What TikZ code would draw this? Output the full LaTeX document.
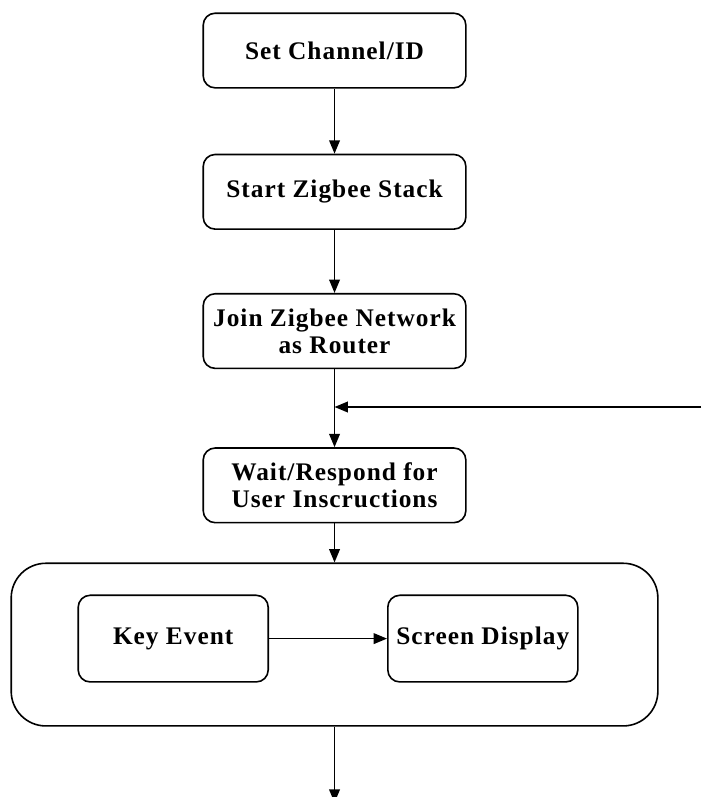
\documentclass[tikz,border=0pt]{standalone}
\usepackage{fontspec}
\setmainfont{Liberation Serif}[LetterSpace=4]
\usepackage{tikz}
\usetikzlibrary{arrows.meta,positioning}

\begin{document}
\begin{tikzpicture}[
  node distance=48.75pt,
  stage/.style={rectangle, draw, rounded corners=9pt, minimum width=197pt,
                minimum height=56pt, align=center, line width=1.2pt,
                font=\fontsize{19}{20.5}\selectfont\bfseries},
  task/.style={stage, minimum width=142.5pt, minimum height=65pt},
  group/.style={rectangle, draw, rounded corners=26pt, minimum width=485pt,
                minimum height=122pt, line width=1.2pt},
  flow/.style={-{Triangle[length=10pt, width=8pt]}, line width=1.2pt},
]
  \useasboundingbox (0,0) rectangle (525.75pt,-597.75pt);

  % -- Main column --
  \node[stage] (chan) at (250.9pt,-37.9pt) {Set Channel/ID};
  \node[stage, below=of chan] (stack) {Start Zigbee Stack};
  \node[stage, below=47.25pt of stack] (join) {Join Zigbee Network\\as Router};
  \node[stage, below=58.5pt of join] (wait) {Wait/Respond for\\User Inscructions};

  % -- Event handling group --
  \node[group, below=29.25pt of wait] (events) {};
  \node[task, right=50.25pt of events.west, yshift=4.5pt] (key) {Key Event};
  \node[task, right=88.5pt of key] (screen) {Screen Display};

  % Loose ends
  \coordinate (back) at (525.75pt,-305.25pt);
  \coordinate[below=57pt of events.south] (out);

  % Connections
  \draw[flow] (chan) -- (stack);
  \draw[flow] (stack) -- (join);
  \draw[flow] (join) -- (wait);
  \draw[flow] (back) -- (back -| join.south);
  \draw[flow] (wait) -- (events);
  \draw[flow] (key) -- (screen);
  \draw[flow] (events) -- (out);

\end{tikzpicture}
\end{document}
